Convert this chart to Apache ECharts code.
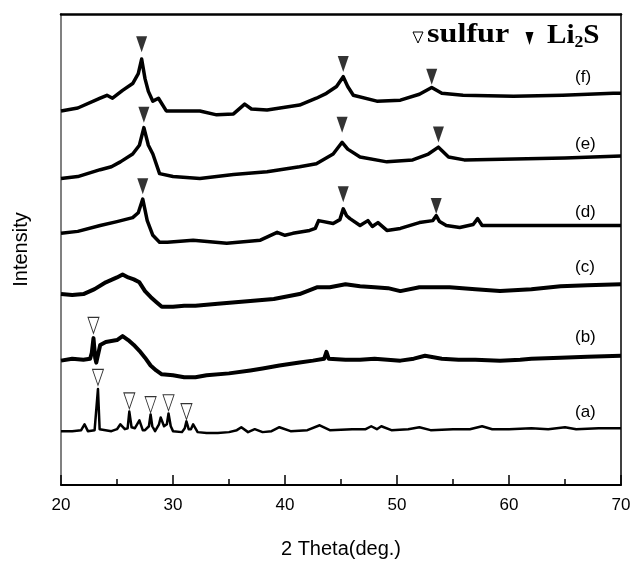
<!DOCTYPE html>
<html>
<head>
<meta charset="utf-8">
<script src="https://cdn.jsdelivr.net/npm/echarts@6/dist/echarts.min.js"></script>
<style>
html,body{margin:0;padding:0;background:#fff;}
#c{width:635px;height:564px;}
</style>
</head>
<body>
<div id="c"></div>
<script>
// 2 Theta (deg.) vs intensity (arbitrary units, offset traces)
var xTicks = [20, 30, 40, 50, 60, 70];

var traceA = [[20,55],[21,55],[21.8,56],[22.1,62],[22.4,55],[23.0,56],[23.15,57],[23.3,98],[23.45,57],[23.6,56],[24.5,55],[25.0,57],[25.3,62],[25.7,57],[25.95,58],[26.1,75],[26.3,59],[26.6,58],[27.0,66],[27.3,56],[27.5,56],[27.85,60],[28.0,72],[28.15,60],[28.4,55],[28.75,62],[28.9,69],[29.2,60],[29.45,62],[29.6,73],[29.8,60],[30.0,55],[30.8,54],[31.05,58],[31.2,65],[31.4,57],[31.6,57],[31.8,62],[32.2,54],[33,53],[34,53],[35,54],[35.7,56],[36.1,59],[36.7,54],[37.3,57],[38,54],[38.8,55],[39.5,59],[40.5,55],[42,56],[43.1,61],[44,56],[46,57],[47.2,57],[47.7,60],[48.2,57],[48.6,60],[49.5,56],[51,57],[52,59],[53,56],[55,57],[56.5,57],[57.6,60],[58.5,57],[60,57],[62,58],[63.5,57],[65,59],[66,57],[68,58],[70,58]];

var traceB = [[20,127],[21,129],[22,128],[22.6,129],[22.75,135],[22.9,150],[23.05,130],[23.15,125],[23.5,143],[24,146],[24.5,147],[25,148],[25.5,152],[26,148],[26.5,143],[27,137],[27.5,130],[28,122],[28.5,117],[29,113],[30,112],[31,110],[32,110],[33,112],[35,114],[36.9,117],[38,119],[39.5,122],[41.3,125],[42.5,127],[43.5,129],[43.7,136],[43.9,129],[45.4,128],[46.7,128],[48,129],[50.3,127],[51.5,129],[52.5,132],[54,129],[55.5,128],[57,128],[59.2,127],[61,128],[62,129],[64.6,130],[67,131],[70,132]];

var traceC = [[20,195],[21,194],[22,195],[23,200],[24,207],[25,212],[25.5,215],[26,212],[26.5,210],[27,207],[27.5,198],[28,192],[28.5,187],[29,182],[30,182],[31,183],[32,183],[34,185],[36.9,188],[39,190],[41.3,195],[42.9,202],[44,202],[45.4,205],[46.7,203],[48,202],[49.2,201],[50.3,198],[52,202],[54.7,202],[57,200],[59.2,198],[62,200],[64.6,203],[67,204],[70,205]];

var traceD = [[20,257],[21.5,259],[23.5,265],[25,269],[26.4,273],[26.9,278],[27.3,292],[27.7,270],[28.2,255],[28.8,248],[29.5,248],[31.8,250],[34.8,247],[37.8,250],[39.3,258],[40,255],[40.7,257],[42.2,260],[42.7,262],[43,270],[44.3,267],[44.9,271],[45.2,282],[45.5,275],[45.8,272],[46.7,265],[47.4,270],[47.8,264],[48.3,268],[49.1,260],[50.3,262],[52,268],[53.2,270],[53.5,275],[53.8,269],[54.4,265],[55.6,263],[56.8,266],[57.2,272],[57.6,265],[60.5,265],[65,265],[70,265]];

var traceE = [[20,313],[21.5,315],[23.5,322],[24.5,325],[25.3,330],[26.4,338],[27.0,347],[27.4,365],[27.8,347],[28.2,338],[28.8,318],[30,315],[32.4,313],[35.4,317],[38.4,320],[41.3,325],[42.8,328],[44.3,338],[45.1,350],[45.6,343],[46.7,335],[49.1,330],[51.4,332],[52.8,338],[53.7,345],[54.6,335],[56,332],[60.5,333],[65,334],[70,336]];

var traceF = [[20,382],[21.5,385],[23.5,395],[24.1,398],[24.6,395],[25.5,403],[26.4,410],[26.9,420],[27.2,435],[27.5,415],[27.8,402],[28.2,392],[28.7,395],[29.4,382],[32.4,382],[33.9,378],[35.4,379],[36.4,389],[37,384],[38.4,383],[41.3,388],[42.8,395],[43.7,400],[44.6,407],[45.2,417],[45.6,407],[46.1,398],[48.2,392],[50.3,393],[52,399],[53.1,406],[54,400],[55.9,398],[60.4,397],[64.8,398],[69.3,400],[70,400]];

var li2sPeaks = [[27.2,450],[45.2,430],[53.1,417],[27.4,378],[45.1,368],[53.7,358],[27.3,305],[45.2,297],[53.5,285]];
var sulfurPeaks = [[22.9,163],[23.3,110],[26.1,86],[28.0,82],[29.6,84],[31.2,75]];

var traceLabels = ['(f)','(e)','(d)','(c)','(b)','(a)'];
var traceLabelTops = [69, 136, 204, 259, 329, 404];

var chart = echarts.init(document.getElementById('c'), null, {renderer:'canvas'});
var sans = 'Liberation Sans, Arial, sans-serif';
var serif = 'Liberation Serif, Times New Roman, serif';

function lineSeries(d, w){
  return {type:'line', data:d, showSymbol:false, symbol:'none', animation:false,
    lineStyle:{color:'#000', width:w, join:'round'}, z:2};
}

var graphics = traceLabels.map(function(t,i){
  return {type:'text', left:575, top:traceLabelTops[i], style:{text:t, font:'17px '+sans, fill:'#000'}};
});
// legend glyphs
graphics.push({type:'polygon', shape:{points:[[413,32],[423,32],[418,43]]},
  style:{fill:'#fff', stroke:'#000', lineWidth:1}});
graphics.push({type:'polygon', shape:{points:[[525.5,32],[533.5,32],[529.5,45]]},
  style:{fill:'#000'}});
graphics.push({type:'text', x:427, y:21, scaleX:1.15, style:{
  text:'sulfur', font:'bold 28px '+serif, fill:'#000'}});
graphics.push({type:'text', x:547, y:21, scaleX:1.04, style:{
  text:'{b|Li}{s|2}{b|S}',
  rich:{
    b:{fontSize:28, fontWeight:'bold', fontFamily:serif, fill:'#000'},
    s:{fontSize:17, fontWeight:'bold', fontFamily:serif, fill:'#000', padding:[13,0,0,0]}
  }
}});

var option = {
  animation:false,
  backgroundColor:'#fff',
  grid:{left:61, right:14, top:14, bottom:69, containLabel:false},
  xAxis:[{
    type:'value', min:20, max:70, interval:10,
    name:'2 Theta(deg.)', nameLocation:'middle', nameGap:54,
    nameTextStyle:{fontSize:20, fontFamily:sans, color:'#000'},
    axisLine:{show:true, lineStyle:{color:'#000', width:2}},
    axisTick:{show:true, inside:true, length:10, lineStyle:{color:'#000', width:1.5}},
    minorTick:{show:true, splitNumber:2, length:6, lineStyle:{color:'#000', width:1.5}},
    axisLabel:{fontSize:17, fontFamily:sans, color:'#000', margin:12,
      formatter:function(v){return xTicks.indexOf(v)>=0 ? String(v) : '';}},
    splitLine:{show:false}
  },{
    type:'value', min:20, max:70, position:'top',
    axisLine:{show:true, onZero:false, lineStyle:{color:'#000', width:2.5}},
    axisTick:{show:false}, axisLabel:{show:false}, splitLine:{show:false}
  }],
  yAxis:[{
    type:'value', min:0, max:481,
    name:'Intensity', nameLocation:'middle', nameGap:30,
    nameTextStyle:{fontSize:20, fontFamily:sans, color:'#000'},
    axisLine:{show:true, lineStyle:{color:'#808080', width:2}},
    axisTick:{show:false}, axisLabel:{show:false}, splitLine:{show:false}
  },{
    type:'value', min:0, max:481, position:'right',
    axisLine:{show:true, onZero:false, lineStyle:{color:'#000', width:1.5}},
    axisTick:{show:false}, axisLabel:{show:false}, splitLine:{show:false}
  }],
  series:[
    lineSeries(traceA, 2.5),
    lineSeries(traceB, 4),
    lineSeries(traceC, 4),
    lineSeries(traceD, 3.5),
    lineSeries(traceE, 3.5),
    lineSeries(traceF, 3.5),
    {type:'scatter', data:li2sPeaks, symbol:'triangle', symbolRotate:180, symbolSize:[11,16],
      itemStyle:{color:'#000'}, z:5, animation:false},
    {type:'scatter', data:sulfurPeaks, symbol:'triangle', symbolRotate:180, symbolSize:[11,16],
      itemStyle:{color:'#fff', borderColor:'#000', borderWidth:1}, z:5, animation:false}
  ],
  graphic:graphics
};
chart.setOption(option);
</script>
</body>
</html>
